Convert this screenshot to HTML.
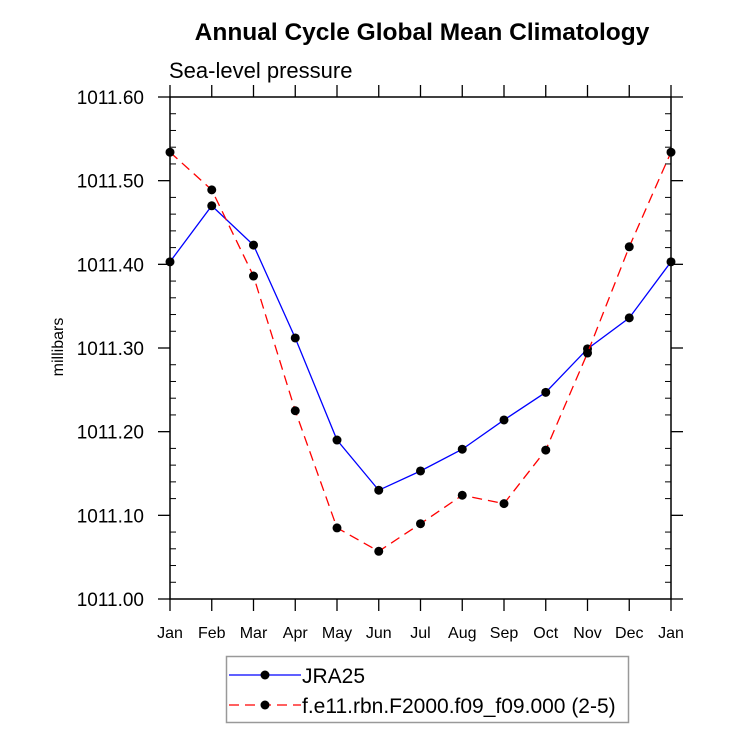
<!DOCTYPE html>
<html><head><meta charset="utf-8"><style>
body{margin:0;background:#fff;}
svg text{font-family:"Liberation Sans",Arial,sans-serif;}
</style></head><body>
<svg id="chart" width="733" height="744" xmlns="http://www.w3.org/2000/svg">
<text x="422" y="40" text-anchor="middle" font-size="24.5" font-weight="bold">Annual Cycle Global Mean Climatology</text>
<text x="169" y="78" font-size="22">Sea-level pressure</text>
<text transform="translate(63,347) rotate(-90)" text-anchor="middle" font-size="16">millibars</text>
<g id="axes"></g>
<g id="series"></g>
<rect x="226.5" y="656.5" width="402" height="66" fill="none" stroke="#999" stroke-width="1.5"/>
<g>
<line x1="229" y1="675" x2="301" y2="675" stroke="#0000ff" stroke-width="1.3"/>
<circle cx="265" cy="675" r="4.5" fill="#000"/>
<text x="302" y="683" font-size="21">JRA25</text>
</g>
<g>
<line x1="229" y1="705" x2="301" y2="705" stroke="#ff0000" stroke-width="1.3" stroke-dasharray="10,6"/>
<circle cx="265" cy="705" r="4.5" fill="#000"/>
<text x="302" y="713" font-size="21">f.e11.rbn.F2000.f09_f09.000 (2-5)</text>
</g>
</svg>
<script>
const months=["Jan","Feb","Mar","Apr","May","Jun","Jul","Aug","Sep","Oct","Nov","Dec","Jan"];
const jra25=[1011.403,1011.470,1011.423,1011.312,1011.190,1011.130,1011.153,1011.179,1011.214,1011.247,1011.299,1011.336,1011.403];
const model=[1011.534,1011.489,1011.386,1011.225,1011.085,1011.057,1011.090,1011.124,1011.114,1011.178,1011.294,1011.421,1011.534];
const yTicks=["1011.00","1011.10","1011.20","1011.30","1011.40","1011.50","1011.60"];
const NS="http://www.w3.org/2000/svg";
const L=170,R=671,T=97,B=599,ymin=1011.0,ymax=1011.6;
function xs(i){return L+(R-L)*i/(months.length-1);}
function ys(v){return B-(v-ymin)/(ymax-ymin)*(B-T);}
function mk(tag,attrs,parent){const e=document.createElementNS(NS,tag);for(const k in attrs)e.setAttribute(k,attrs[k]);parent.appendChild(e);return e;}
const ax=document.getElementById('axes');
const frame=mk('rect',{x:L,y:T,width:R-L,height:B-T,fill:'none',stroke:'#000','stroke-width':1.5},ax);


months.forEach((m,i)=>{
  const x=xs(i);
  mk('line',{x1:x,y1:B,x2:x,y2:B+12,stroke:'#000','stroke-width':1.3},ax);
  mk('line',{x1:x,y1:T,x2:x,y2:T-12,stroke:'#000','stroke-width':1.3},ax);
  const t=mk('text',{x:x,y:B+39,'text-anchor':'middle','font-size':16},ax);
  t.textContent=m;
  
  
});
yTicks.forEach((s,i)=>{
  const v=parseFloat(s),y=ys(v);
  mk('line',{x1:L,y1:y,x2:L-12,y2:y,stroke:'#000','stroke-width':1.3},ax);
  mk('line',{x1:R,y1:y,x2:R+12,y2:y,stroke:'#000','stroke-width':1.3},ax);
  const t=mk('text',{x:L-26,y:y+7,'text-anchor':'end','font-size':19},ax);
  t.textContent=s;
  
  
  if(i<yTicks.length-1){for(let k=1;k<5;k++){const yy=ys(v+0.02*k);
    mk('line',{x1:L,y1:yy,x2:L+6,y2:yy,stroke:'#000','stroke-width':1},ax);
    mk('line',{x1:R,y1:yy,x2:R-6,y2:yy,stroke:'#000','stroke-width':1},ax);}}
});
const sg=document.getElementById('series');
function drawSeries(vals,color,dash,name){
  const g=mk('g',{},sg);
  
  
  const pts=vals.map((v,i)=>xs(i)+','+ys(v)).join(' ');
  const pl=mk('polyline',{points:pts,fill:'none',stroke:color,'stroke-width':1.3},g);
  if(dash)pl.setAttribute('stroke-dasharray',dash);
  
  
  vals.forEach((v,i)=>{
    const c=mk('circle',{cx:xs(i),cy:ys(v),r:4.5,fill:'#000'},g);
    
    
  });
}
drawSeries(jra25,'#0000ff',null,'jra25-series');
drawSeries(model,'#ff0000','10,6','model-series');
</script>
</body></html>
